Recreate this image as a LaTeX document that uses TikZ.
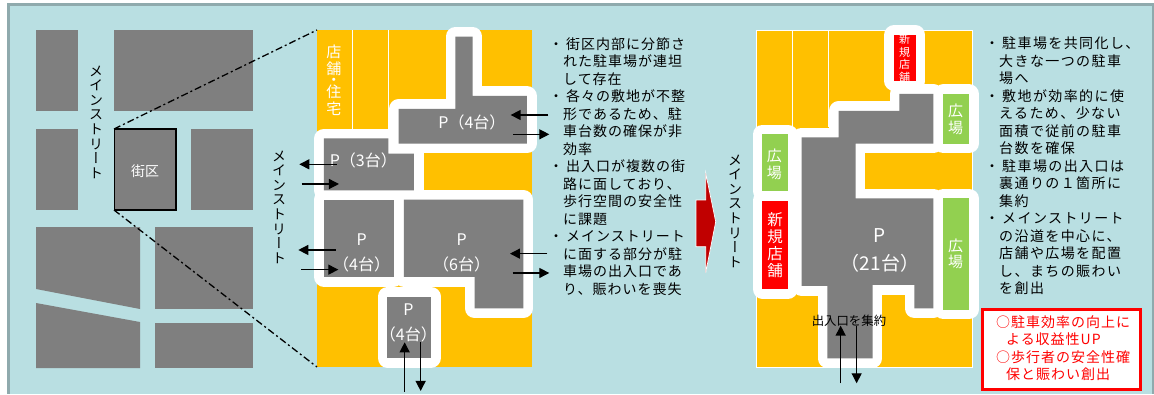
\documentclass[tikz,border=0pt]{standalone}
\usepackage{fontspec}
\usetikzlibrary{arrows.meta}
\setmainfont{Noto Sans CJK JP}
\newfontfamily\jp{Noto Sans CJK JP}
\newfontfamily\jpv[RawFeature=+vert]{Noto Sans CJK JP}
\newfontfamily\jpa[LetterSpace=7]{Noto Sans CJK JP}
\newfontfamily\jpb[LetterSpace=10]{Noto Sans CJK JP}
\definecolor{bg}{HTML}{B9DFE2}
\definecolor{frameband}{HTML}{8FAAAD}
\definecolor{block}{HTML}{7F7F7F}
\definecolor{shop}{HTML}{FFC000}
\definecolor{plaza}{HTML}{92D050}
\definecolor{newshop}{HTML}{FF0000}
\definecolor{bigarrow}{HTML}{C00000}
\tikzset{
  x=1pt,y=-1pt,
  inner sep=0pt,
  blockfill/.style={fill=block,draw=none},
  halo/.style={draw=white,line width=19.5pt,line join=round},
  onhalo/.style={draw=none},
  flow/.style={draw=black,line width=1.3pt,-{Triangle[length=10pt,width=10pt]}},
  street/.style={font=\fontsize{14}{14.6}\jpv,align=center,text=black},
  whitelabel/.style={font=\fontsize{16}{25}\jp,align=center,text=white},
  note/.style={anchor=north west,align=left,text=black},
  zoomM/.style={shift={(270,10)},x=0.3333pt,y=-0.3333pt},
  zoomR/.style={shift={(720,10)},x=0.3333pt,y=-0.3333pt},
}
\begin{document}
\begin{tikzpicture}
\useasboundingbox (0,0) rectangle (1154,394);
\fill[white] (0,0) rectangle (1154,394);
\fill[frameband] (7,3) rectangle (1154,394);
\fill[bg] (10,6) rectangle (1152,394);

% district map
\fill[blockfill] (36,30) rectangle (78,111);
\fill[blockfill] (114,30) rectangle (253,111);
\fill[blockfill] (36,129) rectangle (78,210);
\fill[blockfill] (191,129) rectangle (253,210);
\fill[blockfill] (36,227) -- (140,227) -- (140,309) -- (36,289) -- cycle;
\fill[blockfill] (155,227) rectangle (253,309);
\fill[blockfill] (36,303) -- (140,322) -- (140,368) -- (36,368) -- cycle;
\fill[blockfill] (155,323) rectangle (253,368);
\draw[fill=block,draw=black,line width=1.5pt] (114.5,129) rectangle (176,210);
\node[font=\fontsize{14}{14}\jp,text=white] (gaiku) at (145,171) {街区};
\node[street] (ms1) at (96,122) {メ\\イ\\ン\\ス\\ト\\リ\\ー\\ト};

% current block plan
\begin{scope}[zoomM]
 \fill[shop] (140,60) rectangle (787,1070);
 \draw[white,line width=0.6pt] (247,60) -- (247,356) (355,60) -- (355,356);
 \path[halo] (556,80) -- (608,80) -- (608,258) -- (771,258) -- (771,401) -- (386,401) -- (386,297) -- (556,297) -- cycle;
 \path[halo] (162,385) -- (355,385) -- (355,431) -- (432,431) -- (432,541) -- (162,541) -- cycle;
 \path[halo] (162,569) rectangle (371,801);
 \path[halo] (402,569) -- (760,569) -- (760,895) -- (614,895) -- (614,801) -- (402,801) -- cycle;
 \path[halo] (352,860) rectangle (483,1044);
 \fill[blockfill] (556,80) -- (608,80) -- (608,258) -- (771,258) -- (771,401) -- (386,401) -- (386,297) -- (556,297) -- cycle;
 \fill[blockfill] (162,385) -- (355,385) -- (355,431) -- (432,431) -- (432,541) -- (162,541) -- cycle;
 \fill[blockfill] (162,569) rectangle (371,801);
 \fill[blockfill] (402,569) -- (760,569) -- (760,895) -- (614,895) -- (614,801) -- (402,801) -- cycle;
 \fill[blockfill] (352,860) rectangle (483,1044);
 \node[whitelabel] (p1) at (606,338) {P（4台）};
 \node[whitelabel] (p2) at (280,450) {P（3台）};
 \node[whitelabel] (p3) at (275,728) {P\\（4台）};
 \node[whitelabel] (p4) at (575,728) {P\\（6台）};
 \node[whitelabel] (p5) at (415,940) {P\\（4台）};
 \node[font=\fontsize{15}{16.7}\jp,align=center,text=white] (shoplbl) at (192,210) {店\\舗\\[-5pt]・\\[-5pt]住\\宅};
 \coordinate (a1s) at (835,315); \coordinate (a1e) at (722,315);
 \coordinate (a2s) at (730,373); \coordinate (a2e) at (838,373);
 \coordinate (a3s) at (200,463); \coordinate (a3e) at (88,463);
 \coordinate (a4s) at (95,522);  \coordinate (a4e) at (207,522);
 \coordinate (a5s) at (197,720); \coordinate (a5e) at (85,720);
 \coordinate (a6s) at (93,779);  \coordinate (a6e) at (205,779);
 \coordinate (a7s) at (832,731); \coordinate (a7e) at (720,731);
 \coordinate (a8s) at (728,789); \coordinate (a8e) at (838,789);
 \coordinate (a9s) at (404,1145); \coordinate (a9e) at (404,997);
 \coordinate (a10s) at (452,997); \coordinate (a10e) at (452,1143);
 \foreach \n in {1,...,10} \draw[flow] (a\n s) -- (a\n e);
\end{scope}
\node[street] (ms2) at (279,207) {メ\\イ\\ン\\ス\\ト\\リ\\ー\\ト};

% perspective lines
\coordinate (zoomA) at (114,129); \coordinate (zoomB) at (317,30);
\coordinate (zoomC) at (114,210); \coordinate (zoomD) at (317,367);
\draw[black,line width=1.3pt,dash pattern=on 7pt off 3pt on 2pt off 3pt] (zoomA) -- (zoomB);
\draw[black,line width=1.3pt,dash pattern=on 7pt off 3pt on 2pt off 3pt] (zoomC) -- (zoomD);

% current notes
\node[note,font=\fontsize{14}{17.5}\jpa] (notes1) at (563,37) {\llap{・}\hspace{3pt}街区内部に分節さ\\れた駐車場が連坦\\して存在\\\llap{・}\hspace{3pt}各々の敷地が不整\\形であるため、駐\\車台数の確保が非\\効率\\\llap{・}\hspace{3pt}出入口が複数の街\\路に面しており、\\歩行空間の安全性\\に課題\\\llap{・}\hspace{3pt}メインストリート\\に面する部分が駐\\車場の出入口であ\\り、賑わいを喪失};

% big arrow
\draw[fill=bigarrow,draw=white,line width=0.7pt] (696,200) -- (705.7,200) -- (705.7,173) -- (715.7,221.7) -- (705.7,272.7) -- (705.7,246.7) -- (696,246.7) -- cycle;

% proposed plan
\node[street] (ms3) at (735,211) {メ\\イ\\ン\\ス\\ト\\リ\\ー\\ト};
\begin{scope}[zoomR]
 \fill[shop] (110,60) rectangle (758,1072);
 \draw[white,line width=0.6pt] (110,60) rectangle (758,1072);
 \draw[white,line width=0.8pt] (218,60) -- (218,350) (326,60) -- (326,350);
 \path[halo] (538,252) -- (640,252) -- (640,401) -- (407,401) -- (407,565) -- (640,565) -- (640,895) -- (583,895) -- (583,825) -- (458,825) -- (458,1045) -- (322,1045) -- (322,828) -- (245,828) -- (245,382) -- (356,382) -- (356,303) -- (538,303) -- cycle;
 \path[halo] (522,75) rectangle (587,213);
 \path[halo] (670,252) rectangle (747,401);
 \path[halo] (670,565) rectangle (747,899);
 \path[halo] (127,373) rectangle (204,543);
 \path[halo] (127,572) rectangle (204,837);
 \fill[blockfill] (538,252) -- (640,252) -- (640,401) -- (407,401) -- (407,565) -- (640,565) -- (640,895) -- (583,895) -- (583,825) -- (458,825) -- (458,1045) -- (322,1045) -- (322,828) -- (245,828) -- (245,382) -- (356,382) -- (356,303) -- (538,303) -- cycle;
 \fill[newshop] (522,75) rectangle (587,213);
 \fill[plaza] (670,252) rectangle (747,401);
 \fill[plaza] (670,565) rectangle (747,899);
 \fill[plaza] (127,373) rectangle (204,543);
 \fill[newshop] (127,572) rectangle (204,837);
 \node[font=\fontsize{11}{12.5}\jp,align=center,text=white] (ns1) at (554,145) {新\\規\\店\\舗};
 \node[font=\fontsize{15.5}{17}\jp,align=center,text=white] (ns2) at (165,706) {新\\規\\店\\舗};
 \node[font=\fontsize{15}{16.7}\jp,align=center,text=white] (pl1) at (163,462) {広\\場};
 \node[font=\fontsize{15}{16.7}\jp,align=center,text=white] (pl2) at (707,329) {広\\場};
 \node[font=\fontsize{15}{16.7}\jp,align=center,text=white] (pl3) at (707,732) {広\\場};
 \node[font=\fontsize{19}{28}\jp,align=center,text=white] (p21) at (480,720) {P\\（21台）};
 \node[font=\fontsize{12.4}{13}\jp,text=black] (gather) at (387,932) {出入口を集約};
 \coordinate (b1s) at (362,1120); \coordinate (b1e) at (362,947);
 \coordinate (b2s) at (410,947);  \coordinate (b2e) at (410,1120);
 \draw[flow] (b1s) -- (b1e);
 \draw[flow] (b2s) -- (b2e);
\end{scope}

% proposed notes
\node[note,font=\fontsize{14}{17.5}\jpb] (notes2) at (999,36.5) {\llap{・}\hspace{3pt}駐車場を共同化し、\\大きな一つの駐車\\場へ\\\llap{・}\hspace{3pt}敷地が効率的に使\\えるため、少ない\\面積で従前の駐車\\台数を確保\\\llap{・}\hspace{3pt}駐車場の出入口は\\裏通りの１箇所に\\集約\\\llap{・}\hspace{3pt}メインストリート\\の沿道を中心に、\\店舗や広場を配置\\し、まちの賑わい\\を創出};

% result box
\draw[fill=white,draw=newshop,line width=3pt] (982.5,309.5) rectangle (1140,389);
\node[note,font=\fontsize{14}{17.6}\jpa,text=newshop] (result) at (996,315) {○駐車効率の向上に\\\hspace*{10pt}よる収益性UP\\○歩行者の安全性確\\\hspace*{10pt}保と賑わい創出};
\end{tikzpicture}
\end{document}
